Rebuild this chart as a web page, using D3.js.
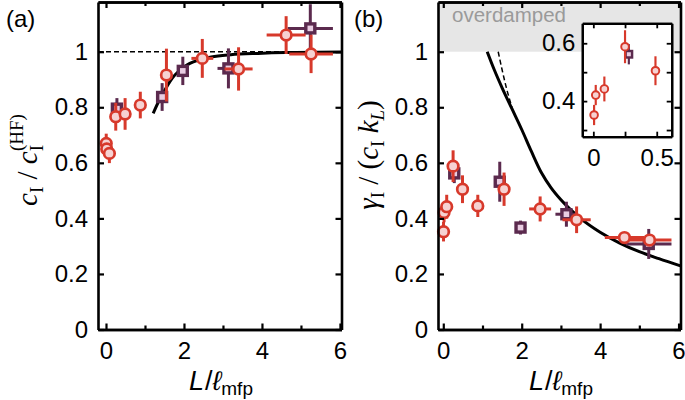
<!DOCTYPE html>
<html><head><meta charset="utf-8">
<script src="https://cdn.jsdelivr.net/npm/d3@7"></script>
<style>body{margin:0;background:#fff}svg{display:block}</style>
</head><body>
<svg id="c" width="685" height="400"></svg>
<script>
// ---- data ----
const redX   = [0.006, 0.019, 0.087, 0.25, 0.49, 0.88, 1.55, 2.47, 3.40, 4.62, 5.26];
const redXErr= [0, 0, 0, 0, 0, 0, 0, 0.28, 0.36, 0.50, 0.56];
const redA   = [0.670, 0.650, 0.634, 0.766, 0.776, 0.808, 0.916, 0.976, 0.938, 1.060, 0.992];
const redAErr= [0.035, 0.03, 0.035, 0.05, 0.057, 0.048, 0.095, 0.07, 0.078, 0.068, 0.069];
const redB   = [0.352, 0.421, 0.442, 0.588, 0.505, 0.445, 0.505, 0.434, 0.395, 0.331, 0.322];
const redBErr= [0.035, 0.035, 0.043, 0.057, 0.05, 0.04, 0.06, 0.045, 0.048, 0.02, 0.02];
const purX   = [0.28, 1.44, 1.97, 3.14, 5.24];
const purXErr= [0, 0, 0.12, 0.28, 0.58];
const purA   = [0.795, 0.837, 0.931, 0.940, 1.084];
const purAErr= [0.038, 0.05, 0.051, 0.072, 0.087];
const purB   = [0.562, 0.532, 0.367, 0.415, 0.308];
const purBErr= [0.035, 0.072, 0.025, 0.045, 0.054];
// theory curves
const curveAX = [1.21, 1.4, 1.56, 1.7, 1.85, 2.0, 2.15, 2.4, 2.7, 3.2, 3.9, 4.6, 6.04];
const curveAY = [0.778, 0.835, 0.874, 0.905, 0.928, 0.945, 0.958, 0.971, 0.981, 0.989, 0.994, 0.997, 0.999];
const curveBX = [1.12, 1.3, 1.5, 1.75, 2.0, 2.25, 2.5, 2.75, 3.0, 3.5, 4.0, 4.5, 5.0, 5.5, 6.05];
const curveBY = [1.0, 0.935, 0.87, 0.795, 0.72, 0.64, 0.565, 0.51, 0.467, 0.40, 0.35, 0.311, 0.28, 0.255, 0.229];
const dashBX = [1.40, 1.5, 1.6, 1.75];
const dashBY = [1.0, 0.935, 0.875, 0.80];
const refLineY = 1;
const xTicks = [0, 2, 4, 6], xMinor = [1, 3, 5];
const yTicks = [0, 0.2, 0.4, 0.6, 0.8, 1];
const insetXTicks = [0, 0.5], insetXMinor = [0.25];
const insetYTicks = [0.4, 0.6], insetYMinor = [0.3, 0.5];

const RED = "#d7392b", RED_F = "#f6d2d2", PUR = "#5b2a4e", PUR_F = "#e9cde2";
const svg = d3.select("#c");
const fmt = d => d === 0 ? "0" : (d === 1 ? "1" : String(d));

function panel(cfg) {
  const {x, y, g} = cfg;
  const [x0, x1] = x.range(), [y0, y1] = y.range();
  const ax = (gen, tr, vals, size, labels, pad) => {
    const a = gen.tickValues(vals).tickSizeInner(-size).tickSizeOuter(0).tickPadding(pad || 10)
      .tickFormat(labels ? fmt : "");
    const s = g.append("g").attr("transform", tr).call(a);
    s.select(".domain").attr("stroke-width", cfg.sw || 2.6).attr("stroke", "#000");
    s.selectAll(".tick line").attr("stroke-width", cfg.sw ? 1.8 : 2.2);
    s.selectAll("text").attr("font-family", "Liberation Sans, Arial, sans-serif")
      .attr("font-size", cfg.fs || 24).attr("fill", "#000");
    return s;
  };
  const ts = cfg.tick || 6, tm = cfg.tickm || 4;
  ax(d3.axisBottom(x), `translate(0,${y0})`, cfg.xt, ts, true, cfg.xpad || 12);
  ax(d3.axisBottom(x), `translate(0,${y0})`, cfg.xm, tm, false);
  ax(d3.axisTop(x), `translate(0,${y1})`, cfg.xt, ts, false);
  ax(d3.axisTop(x), `translate(0,${y1})`, cfg.xm, tm, false);
  ax(d3.axisLeft(y), `translate(${x0},0)`, cfg.yt, ts, true, cfg.ypad || 10);
  if (cfg.ym) ax(d3.axisLeft(y), `translate(${x0},0)`, cfg.ym, tm, false);
  ax(d3.axisRight(y), `translate(${x1},0)`, cfg.yt, ts, false);
  if (cfg.ym) ax(d3.axisRight(y), `translate(${x1},0)`, cfg.ym, tm, false);
}

function points(g, x, y, xs, ys, eys, exs, kind, sc) {
  const col = kind === "c" ? RED : PUR, fill = kind === "c" ? RED_F : PUR_F;
  const data = xs.map((v, i) => ({x: v, y: ys[i], ey: eys[i], ex: exs[i]}));
  const eg = g.append("g").attr("stroke", col).attr("stroke-width", 3 * sc);
  data.forEach(d => {
    eg.append("line").attr("x1", x(d.x)).attr("x2", x(d.x)).attr("y1", y(d.y - d.ey)).attr("y2", y(d.y + d.ey));
    if (d.ex > 0) eg.append("line").attr("y1", y(d.y)).attr("y2", y(d.y)).attr("x1", x(d.x - d.ex)).attr("x2", x(d.x + d.ex));
  });
  if (kind === "c") {
    g.append("g").selectAll("circle").data(data).join("circle")
      .attr("cx", d => x(d.x)).attr("cy", d => y(d.y)).attr("r", 5.3 * sc)
      .attr("fill", fill).attr("stroke", col).attr("stroke-width", 2.7 * sc);
  } else {
    const s = 9 * sc;
    g.append("g").selectAll("rect").data(data).join("rect")
      .attr("x", d => x(d.x) - s / 2).attr("y", d => y(d.y) - s / 2).attr("width", s).attr("height", s)
      .attr("fill", fill).attr("stroke", col).attr("stroke-width", 3.4 * sc);
  }
}
const line = (x, y) => d3.line().x(d => x(d[0])).y(d => y(d[1])).curve(d3.curveMonotoneX);
const zip = (a, b) => a.map((v, i) => [v, b[i]]);

// ---------- panel (a) ----------
const xA = d3.scaleLinear().domain([-0.205, 6.04]).range([98, 341.5]);
const yA = d3.scaleLinear().domain([0, 1.179]).range([329.5, 2]);
const gA = svg.append("g");
const cA = gA.append("g");
cA.append("line").attr("x1", xA(-0.205)).attr("x2", xA(6.04)).attr("y1", yA(refLineY)).attr("y2", yA(refLineY))
  .attr("stroke", "#000").attr("stroke-width", 1.5).attr("stroke-dasharray", "5,3");
cA.append("path").attr("d", line(xA, yA)(zip(curveAX, curveAY))).attr("fill", "none").attr("stroke", "#000").attr("stroke-width", 3);
points(cA, xA, yA, purX, purA, purAErr, purXErr, "s", 1);
points(cA, xA, yA, redX, redA, redAErr, redXErr, "c", 1);
panel({x: xA, y: yA, g: gA, xt: xTicks, xm: xMinor, yt: yTicks});

// ---------- panel (b) ----------
const xB = d3.scaleLinear().domain([-0.135, 6.05]).range([438, 680.5]);
const yB = d3.scaleLinear().domain([0, 1.179]).range([329.5, 2]);
const gB = svg.append("g");
gB.append("rect").attr("x", xB(-0.135)).attr("y", yB(1.179)).attr("width", xB(6.05) - xB(-0.135))
  .attr("height", yB(1) - yB(1.179)).attr("fill", "#e6e6e6");
gB.append("text").attr("x", 452).attr("y", 22).attr("font-family", "Liberation Sans, Arial, sans-serif")
  .attr("font-size", 20.5).attr("fill", "#9a9a9a").text("overdamped");
gB.append("path").attr("d", line(xB, yB)(zip(curveBX, curveBY))).attr("fill", "none").attr("stroke", "#000").attr("stroke-width", 3);
gB.append("path").attr("d", line(xB, yB)(zip(dashBX, dashBY))).attr("fill", "none").attr("stroke", "#000").attr("stroke-width", 1.5).attr("stroke-dasharray", "5,3");
points(gB, xB, yB, purX, purB, purBErr, purXErr, "s", 1);
points(gB, xB, yB, redX, redB, redBErr, redXErr, "c", 1);
panel({x: xB, y: yB, g: gB, xt: xTicks, xm: xMinor, yt: yTicks});

// ---------- inset ----------
const xI = d3.scaleLinear().domain([-0.087, 0.618]).range([582.3, 671.7]);
const yI = d3.scaleLinear().domain([0.277, 0.669]).range([136.7, 23.3]);
const gI = svg.append("g");
gI.append("rect").attr("x", 582.3).attr("y", 23.3).attr("width", 671.7 - 582.3).attr("height", 136.7 - 23.3).attr("fill", "#fff");
const inR = redX.map((v, i) => i).filter(i => redX[i] < 0.6);
const inP = purX.map((v, i) => i).filter(i => purX[i] < 0.6);
points(gI, xI, yI, inP.map(i => purX[i]), inP.map(i => purB[i]), inP.map(i => purBErr[i]), inP.map(i => purXErr[i]), "s", 0.72);
points(gI, xI, yI, inR.map(i => redX[i]), inR.map(i => redB[i]), inR.map(i => redBErr[i]), inR.map(i => redXErr[i]), "c", 0.72);
panel({x: xI, y: yI, g: gI, xt: insetXTicks, xm: insetXMinor, yt: insetYTicks, ym: insetYMinor, sw: 2.2, tick: 5, tickm: 5, ypad: 7, xpad: 12});

// ---------- labels ----------
const sans = "Liberation Sans, Arial, sans-serif", serif = "Liberation Serif, Times New Roman, serif";
svg.append("text").attr("x", 6).attr("y", 27).attr("font-family", sans).attr("font-size", 24).text("(a)");
svg.append("text").attr("x", 354).attr("y", 27).attr("font-family", sans).attr("font-size", 24).text("(b)");

function xTitle(cx) {
  const t = svg.append("text").attr("x", cx).attr("y", 390).attr("text-anchor", "middle")
    .attr("font-family", sans).attr("font-size", 27);
  t.append("tspan").attr("font-style", "italic").text("L");
  t.append("tspan").attr("dx", 1).text("/");
  t.append("tspan").attr("font-style", "italic").text("ℓ");
  t.append("tspan").attr("font-size", 19).attr("dy", 5).text("mfp");
}
xTitle(221); xTitle(561);

const tA = svg.append("text").attr("transform", "translate(37,160) rotate(-90)").attr("text-anchor", "middle")
  .attr("font-family", serif).attr("font-size", 29);
tA.append("tspan").attr("font-style", "italic").text("c");
tA.append("tspan").attr("font-size", 19).attr("dy", 6).text("I");
tA.append("tspan").attr("dy", -6).text(" / ");
tA.append("tspan").attr("font-style", "italic").text("c");
tA.append("tspan").attr("font-size", 19).attr("dy", 6).text("I");
tA.append("tspan").attr("font-size", 19).attr("dx", -6).attr("dy", -20).text("(HF)");

const tB = svg.append("text").attr("transform", "translate(378,155) rotate(-90)").attr("text-anchor", "middle")
  .attr("font-family", serif).attr("font-size", 29);
tB.append("tspan").attr("font-style", "italic").text("γ");
tB.append("tspan").attr("font-size", 19).attr("dy", 6).text("I");
tB.append("tspan").attr("dy", -6).text(" / (");
tB.append("tspan").attr("font-style", "italic").text("c");
tB.append("tspan").attr("font-size", 19).attr("dy", 6).text("I");
tB.append("tspan").attr("dy", -6).attr("font-style", "italic").text(" k");
tB.append("tspan").attr("font-size", 19).attr("font-style", "italic").attr("dy", 6).text("L");
tB.append("tspan").attr("dy", -6).text(")");
</script>
</body></html>
